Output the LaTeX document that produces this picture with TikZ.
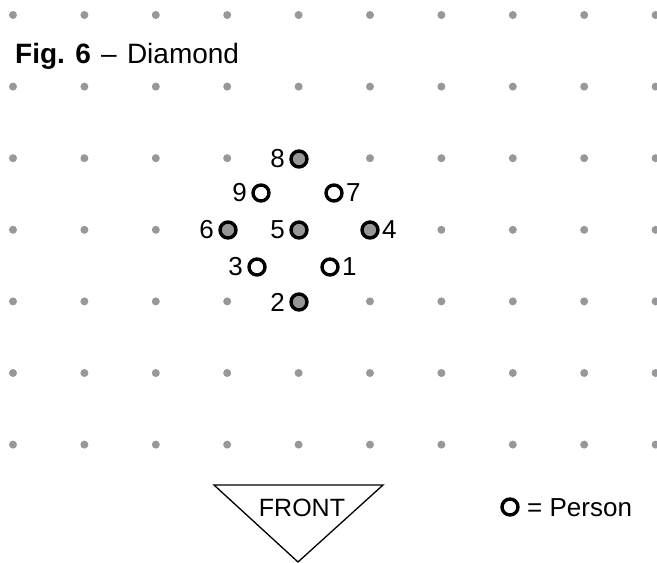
\documentclass[tikz,border=0pt]{standalone}
\usepackage{fontspec}
\setmainfont{Liberation Sans}
\definecolor{griddot}{RGB}{152,152,156}
\definecolor{personfill}{RGB}{150,150,150}
\begin{document}
\begin{tikzpicture}[x=1pt,y=-1pt,
  gdot/.style={circle,fill=griddot,inner sep=0pt,minimum size=8pt},
  person/.style={circle,draw=black,line width=3.4pt,inner sep=0pt,minimum size=16pt,fill=white},
  lead/.style={person,fill=personfill},
  num/.style={font=\fontsize{26}{26}\selectfont,inner sep=0pt},
  numl/.style={num,anchor=east,xshift=-14pt},
  numr/.style={num,anchor=west,xshift=12pt}]
\useasboundingbox (0,0) rectangle (657,563);
\foreach \i in {0,...,9}{
  \foreach \j in {0,...,6}{
    \node[gdot] (g\i\j) at (13+71.4*\i, 15+71.6*\j) {};
  }
}
\node[anchor=base west,inner sep=0pt,font=\fontsize{28}{28}\selectfont] (title) at (15,63) {\textbf{Fig. 6}\hspace{2.5pt} – \hspace{2.5pt}Diamond};
% persons
\node[lead]   (p8) at (299,159) {};
\node[person] (p9) at (261,193) {};
\node[person] (p7) at (334,193) {};
\node[lead]   (p6) at (228,230) {};
\node[lead]   (p5) at (299,230) {};
\node[lead]   (p4) at (370,230) {};
\node[person] (p3) at (257,267) {};
\node[person] (p1) at (330,267) {};
\node[lead]   (p2) at (299,302) {};
% labels
\node[numl] (l8) at (p8.center) {8};
\node[numl] (l9) at (p9.center) {9};
\node[numr] (l7) at (p7.center) {7};
\node[numl] (l6) at (p6.center) {6};
\node[numl] (l5) at (p5.center) {5};
\node[numr] (l4) at (p4.center) {4};
\node[numl] (l3) at (p3.center) {3};
\node[numr] (l1) at (p1.center) {1};
\node[numl] (l2) at (p2.center) {2};
% front
\coordinate (ftl) at (214,485);
\coordinate (ftr) at (383,485);
\coordinate (fb) at (298,562);
\draw[line width=1.3pt] (ftl) -- (ftr) -- (fb) -- cycle;
\node[inner sep=0pt,font=\fontsize{25}{25}\selectfont] (front) at (302,508) {FRONT};
% legend
\node[person] (leg) at (510,507) {};
\node[anchor=base west,inner sep=0pt,font=\fontsize{26}{26}\selectfont] (legt) at (527,516) {= Person};
\end{tikzpicture}
\end{document}
